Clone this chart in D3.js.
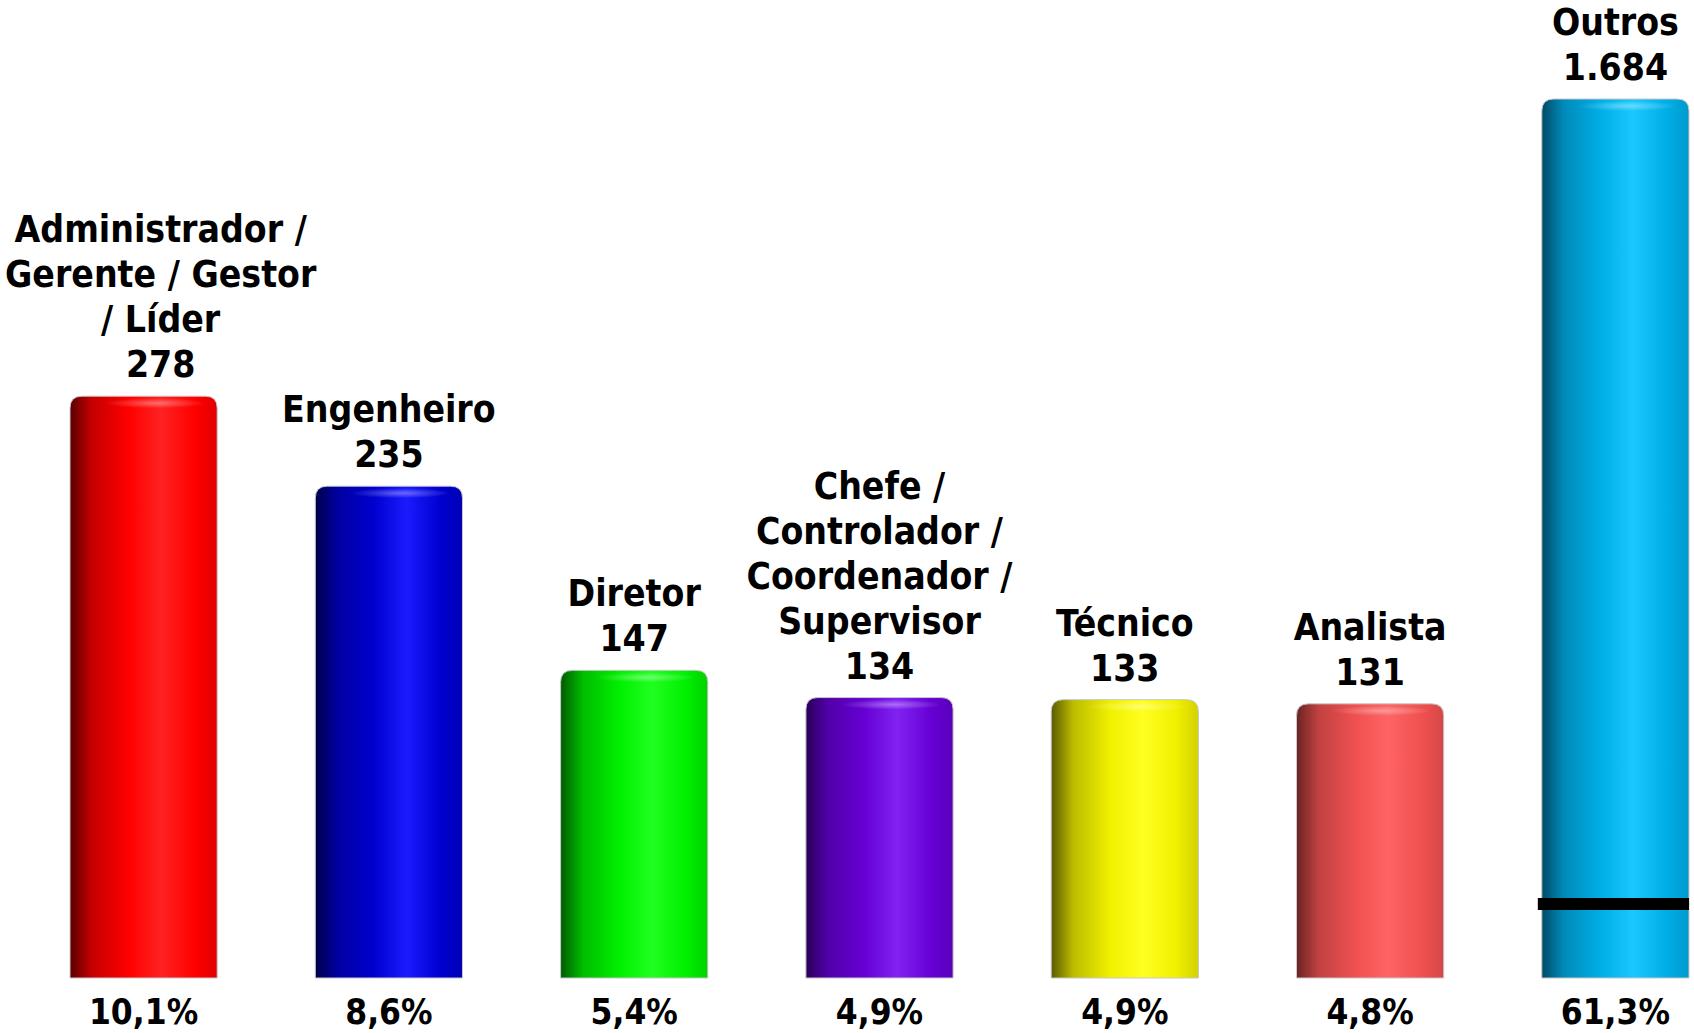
<!DOCTYPE html>
<html>
<head>
<meta charset="utf-8">
<script src="https://cdn.jsdelivr.net/npm/d3@7"></script>
<style>
  body { margin: 0; background: #fff; }
  text { font-family: "DejaVu Sans Condensed", "DejaVu Sans", sans-serif; font-weight: bold; fill: #000; }
</style>
</head>
<body>
<script>
// data
var categories = ["Administrador / Gerente / Gestor / Líder", "Engenheiro", "Diretor",
                  "Chefe / Controlador / Coordenador / Supervisor", "Técnico", "Analista", "Outros"];
var labelLines = [["Administrador /", "Gerente / Gestor", "/ Líder"], ["Engenheiro"], ["Diretor"],
                  ["Chefe /", "Controlador /", "Coordenador /", "Supervisor"], ["Técnico"], ["Analista"], ["Outros"]];
var values = [278, 235, 147, 134, 133, 131, 1684];
var valueLabels = ["278", "235", "147", "134", "133", "131", "1.684"];
var percentLabels = ["10,1%", "8,6%", "5,4%", "4,9%", "4,9%", "4,8%", "61,3%"];
var colors = [
  {dark: "#5a0000", base: "#ff0000", hi: "#ff2222"},
  {dark: "#00004a", base: "#0000d0", hi: "#1a1aff"},
  {dark: "#005a00", base: "#00f000", hi: "#20ff20"},
  {dark: "#2a0058", base: "#6600d4", hi: "#8022f2"},
  {dark: "#5a5a00", base: "#f0f000", hi: "#ffff20"},
  {dark: "#6a2424", base: "#f05050", hi: "#ff6464"},
  {dark: "#004a66", base: "#00aee6", hi: "#1ac8ff"}
];

var W = 1694, H = 1033;
var baseY = 978, topY = 99;

var svg = d3.select("body").append("svg")
  .attr("width", W).attr("height", H);

var x = d3.scaleBand()
  .domain(categories)
  .range([70, 1689])
  .paddingInner(0.4)
  .paddingOuter(0);

// axis is broken: values over the max are clamped (Outros)
var y = d3.scaleLinear()
  .domain([0, 420])
  .range([baseY, topY])
  .clamp(true);

var defs = svg.append("defs");
colors.forEach(function(c, i) {
  var g = defs.append("linearGradient").attr("id", "grad" + i)
    .attr("x1", "0%").attr("x2", "100%").attr("y1", "0%").attr("y2", "0%");
  g.append("stop").attr("offset", "0%").attr("stop-color", c.dark);
  g.append("stop").attr("offset", "15%").attr("stop-color", d3.interpolateRgb(c.dark, c.base)(0.65));
  g.append("stop").attr("offset", "40%").attr("stop-color", c.base);
  g.append("stop").attr("offset", "62%").attr("stop-color", c.hi);
  g.append("stop").attr("offset", "85%").attr("stop-color", c.base);
  g.append("stop").attr("offset", "100%").attr("stop-color", d3.interpolateRgb(c.base, c.dark)(0.2));

  var r = defs.append("radialGradient").attr("id", "cap" + i)
    .attr("cx", "55%").attr("cy", "50%").attr("r", "50%");
  r.append("stop").attr("offset", "0%").attr("stop-color", "#fff").attr("stop-opacity", 0.35);
  r.append("stop").attr("offset", "100%").attr("stop-color", "#fff").attr("stop-opacity", 0);
});

var bw = x.bandwidth(), rad = 12;

function barPath(d, i) {
  var x0 = x(categories[i]), x1 = x0 + bw, y0 = y(d), y1 = baseY;
  return "M" + x0 + "," + y1 +
    "L" + x0 + "," + (y0 + rad) +
    "Q" + x0 + "," + y0 + " " + (x0 + rad) + "," + y0 +
    "L" + (x1 - rad) + "," + y0 +
    "Q" + x1 + "," + y0 + " " + x1 + "," + (y0 + rad) +
    "L" + x1 + "," + y1 + "Z";
}

var bars = svg.append("g").selectAll("g.bar")
  .data(values)
  .enter().append("g").attr("class", "bar");

bars.append("path")
  .attr("d", barPath)
  .attr("fill", function(d, i) { return "url(#grad" + i + ")"; })
  .attr("stroke", "#c8c8c8")
  .attr("stroke-width", 1);

// top highlight of the cylinder
bars.append("ellipse")
  .attr("cx", function(d, i) { return x(categories[i]) + bw * 0.55; })
  .attr("cy", function(d) { return y(d) + 7; })
  .attr("rx", bw * 0.35)
  .attr("ry", 5)
  .attr("fill", function(d, i) { return "url(#cap" + i + ")"; });

// break mark on the clamped bar
values.forEach(function(v, i) {
  if (v > y.domain()[1]) {
    svg.append("rect")
      .attr("x", x(categories[i]) - 4)
      .attr("y", baseY - 80)
      .attr("width", bw + 4)
      .attr("height", 12)
      .attr("fill", "#000");
  }
});

// labels above bars
var fs = 37, lh = 45;
svg.append("g").selectAll("text.lbl")
  .data(values)
  .enter().append("text")
  .attr("class", "lbl")
  .attr("text-anchor", "middle")
  .style("font-size", fs + "px")
  .each(function(d, i) {
    var lines = labelLines[i].concat([valueLabels[i]]);
    var t = d3.select(this);
    var cx = x(categories[i]) + bw / 2;
    var by = y(d) - 19;
    lines.forEach(function(s, j) {
      t.append("tspan")
        .attr("x", cx)
        .attr("y", by - (lines.length - 1 - j) * lh)
        .text(s);
    });
    // keep the label inside the page
    var bb = this.getBBox();
    if (bb.x < 5) {
      t.selectAll("tspan").attr("x", cx + (5 - bb.x));
    }
  });

// percent labels under bars
svg.append("g").selectAll("text.pct")
  .data(percentLabels)
  .enter().append("text")
  .attr("class", "pct")
  .attr("text-anchor", "middle")
  .attr("x", function(d, i) { return x(categories[i]) + bw / 2; })
  .attr("y", 1024)
  .style("font-size", "35px")
  .text(function(d) { return d; });
</script>
</body>
</html>
